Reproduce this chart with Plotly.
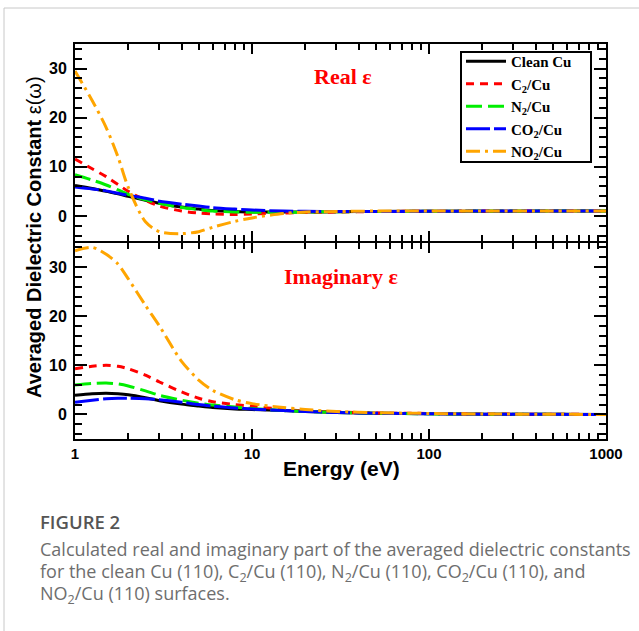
import plotly.graph_objects as go

# ---------------- data ----------------
energy = [1, 1.25, 1.5, 1.75, 2, 2.5, 3, 4, 5, 6, 8, 10, 15, 20, 30, 50, 100, 200, 500, 1000]

real_clean = [6.2, 5.6, 5.0, 4.5, 4.0, 3.2, 2.6, 1.8, 1.4, 1.1, 0.9, 0.8, 0.8, 0.8, 0.85, 0.9, 0.95, 0.95, 1.0, 1.0]
real_c2 = [11.6, 9.6, 8.0, 6.4, 5.0, 3.2, 2.0, 1.0, 0.6, 0.4, 0.3, 0.4, 0.6, 0.7, 0.8, 0.9, 0.95, 1.0, 1.0, 1.0]
real_n2 = [8.4, 7.3, 6.3, 5.3, 4.4, 3.3, 2.6, 1.7, 1.3, 1.0, 0.8, 0.75, 0.75, 0.8, 0.85, 0.9, 0.95, 1.0, 1.0, 1.0]
real_co2 = [5.9, 5.5, 5.1, 4.6, 4.2, 3.6, 3.0, 2.4, 2.0, 1.7, 1.4, 1.2, 1.0, 0.95, 0.9, 0.9, 0.95, 1.0, 1.0, 1.0]
real_no2 = [29.5, 23.5, 18.0, 12.0, 5.8, -1.2, -3.2, -3.6, -3.2, -2.3, -1.1, -0.4, 0.5, 0.8, 0.9, 1.0, 1.0, 1.0, 1.0, 1.0]

imag_clean = [3.9, 4.2, 4.3, 4.2, 4.0, 3.4, 2.8, 2.1, 1.7, 1.4, 1.1, 1.0, 0.8, 0.6, 0.4, 0.25, 0.12, 0.06, 0.02, 0.0]
imag_c2 = [9.3, 9.8, 10.0, 9.8, 9.3, 8.0, 6.6, 4.6, 3.3, 2.6, 2.0, 1.7, 1.0, 0.7, 0.5, 0.3, 0.2, 0.1, 0.03, 0.0]
imag_n2 = [6.0, 6.3, 6.4, 6.2, 5.8, 4.8, 3.9, 2.9, 2.3, 1.9, 1.5, 1.2, 0.8, 0.6, 0.4, 0.25, 0.12, 0.06, 0.02, 0.0]
imag_co2 = [2.5, 2.9, 3.2, 3.3, 3.3, 3.2, 3.0, 2.5, 2.0, 1.7, 1.3, 1.1, 0.8, 0.6, 0.4, 0.25, 0.15, 0.06, 0.02, 0.0]
imag_no2 = [33.3, 34.0, 32.6, 30.6, 27.6, 22.2, 18.0, 10.8, 7.0, 4.9, 3.0, 2.2, 1.4, 1.0, 0.6, 0.35, 0.2, 0.1, 0.03, 0.0]

series_names = ["Clean Cu", "C<sub>2</sub>/Cu", "N<sub>2</sub>/Cu", "CO<sub>2</sub>/Cu", "NO<sub>2</sub>/Cu"]
real_series = [real_clean, real_c2, real_n2, real_co2, real_no2]
imag_series = [imag_clean, imag_c2, imag_n2, imag_co2, imag_no2]

# ---------------- styles ----------------
colors = ["#000000", "#ff0000", "#00ee00", "#0000ff", "#ffa500"]
dashes = ["solid", "8px,6px", "16px,6px", "24px,4px", "14px,5px,3px,5px"]

W, H = 639, 631
L, R, T, B = 75, 33, 44, 192
PW, PH = W - L - R, H - T - B


def px(x):
    return (x - L) / PW


def py(y):
    return (H - B - y) / PH


fig = go.Figure()
for i, name in enumerate(series_names):
    fig.add_trace(go.Scatter(x=energy, y=real_series[i], mode="lines", name=name,
                             line=dict(color=colors[i], width=3, dash=dashes[i], shape="spline", smoothing=0.8),
                             xaxis="x", yaxis="y"))
for i, name in enumerate(series_names):
    fig.add_trace(go.Scatter(x=energy, y=imag_series[i], mode="lines", name=name, showlegend=False,
                             line=dict(color=colors[i], width=3, dash=dashes[i], shape="spline", smoothing=0.8),
                             xaxis="x2", yaxis="y2"))

sans = "Liberation Sans, Arial, sans-serif"
serif = "Liberation Serif, Times New Roman, serif"

xcommon = dict(type="log", range=[0, 3], dtick=1, ticks="inside", ticklen=10, tickwidth=2,
               tickcolor="black", showline=True, linewidth=2, linecolor="black", mirror="allticks",
               showgrid=False, zeroline=False,
               minor=dict(ticks="inside", ticklen=6, tickwidth=2, tickcolor="black", dtick="D1", showgrid=False))
ycommon = dict(range=[-5, 35], dtick=10, tick0=0, ticks="inside", ticklen=12, tickwidth=2,
               tickcolor="black", showline=True, linewidth=2, linecolor="black", mirror="allticks",
               showgrid=False, zeroline=False, ticklabelstandoff=3,
               tickfont=dict(family=sans, size=16, color="black", weight="bold"),
               minor=dict(ticks="inside", ticklen=7, tickwidth=2, tickcolor="black", dtick=2, showgrid=False))

half = 1.0 / PH
fig.update_layout(
    width=W, height=H,
    margin=dict(l=L, r=R, t=T, b=B, pad=0),
    paper_bgcolor="white", plot_bgcolor="white",
    showlegend=True,
    xaxis=dict(anchor="y", domain=[0, 1], showticklabels=False, **xcommon),
    xaxis2=dict(anchor="y2", domain=[0, 1], showticklabels=True,
                tickfont=dict(family=sans, size=15, color="black", weight="bold"),
                **xcommon),
    yaxis=dict(anchor="x", domain=[0.5 + half, 1], **ycommon),
    yaxis2=dict(anchor="x2", domain=[0, 0.5 - half], **ycommon),
    legend=dict(x=px(461), y=py(45), xanchor="left", yanchor="top",
                borderwidth=0, bgcolor="rgba(0,0,0,0)",
                font=dict(family=serif, size=15, color="black", weight="bold"),
                itemwidth=40, tracegroupgap=0, traceorder="normal"),
)


def note(text, x, y, font, xanchor="center", yanchor="middle", angle=0):
    return dict(text=text, x=px(x), y=py(y), xref="paper", yref="paper", showarrow=False,
                xanchor=xanchor, yanchor=yanchor, textangle=angle, font=font)


annotations = [
    note("Real ε", 343, 76, dict(family=serif, size=22, color="#ff0000", weight="bold")),
    note("Imaginary ε", 341, 276, dict(family=serif, size=22, color="#ff0000", weight="bold")),
    note("<b>Averaged Dielectric Constant</b> ε(ω)", 34, 237, dict(family=sans, size=20, color="black"), angle=-90),
    note("<b>Energy (eV)</b>", 341, 468, dict(family=sans, size=21, color="black")),
    note("FIGURE 2", 38, 521, dict(family="Open Sans, sans-serif", size=18.5, color="#555555", weight=600),
         xanchor="left"),
]
caption_lines = [
    "Calculated real and imaginary part of the averaged dielectric constants",
    "for the clean Cu (110), C<sub>2</sub>/Cu (110), N<sub>2</sub>/Cu (110), CO<sub>2</sub>/Cu (110), and",
    "NO<sub>2</sub>/Cu (110) surfaces.",
]
caption_y = [549, 572, 594]
for txt, yy in zip(caption_lines, caption_y):
    annotations.append(note(txt, 38, yy, dict(family="Open Sans, sans-serif", size=18, color="#6e6e6e"),
                            xanchor="left"))
fig.update_layout(annotations=annotations)

fig.update_layout(shapes=[
    # card border
    dict(type="line", xref="paper", yref="paper", x0=px(4), x1=px(640), y0=py(8), y1=py(8),
         line=dict(color="#c8c8c8", width=1)),
    dict(type="line", xref="paper", yref="paper", x0=px(4), x1=px(4), y0=py(8), y1=py(632),
         line=dict(color="#c8c8c8", width=1)),
    # legend frame
    dict(type="rect", xref="paper", yref="paper", x0=px(461), x1=px(591), y0=py(162), y1=py(52),
         line=dict(color="black", width=2), fillcolor="white", layer="above"),
])
fig.write_html("out.html")
